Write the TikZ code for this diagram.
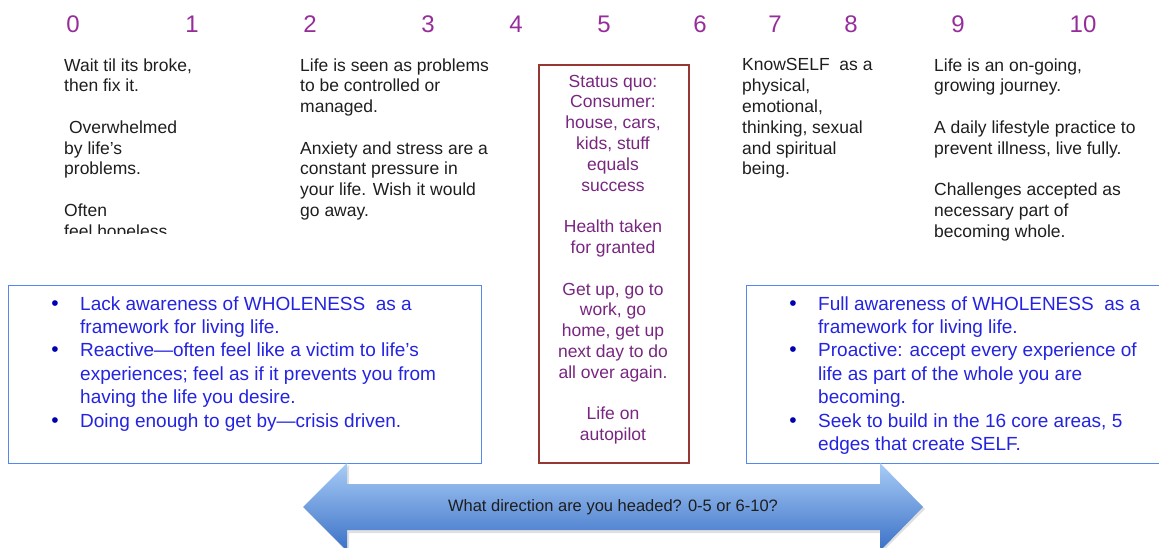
\documentclass[tikz,border=0pt]{standalone}
\usepackage{fontspec}
\setmainfont{Liberation Sans}
\usetikzlibrary{positioning}
\definecolor{numcol}{RGB}{150,45,155}
\definecolor{quocol}{RGB}{120,38,128}
\definecolor{txtcol}{RGB}{30,30,30}
\definecolor{bluetxt}{RGB}{35,35,225}
\definecolor{blueline}{RGB}{85,135,240}
\definecolor{redline}{RGB}{150,55,52}
\definecolor{arrowtop}{RGB}{168,204,246}
\definecolor{arrowbot}{RGB}{58,112,198}
% multi-line nodes sit on the baseline of their last line
\tikzset{
    scalenum/.style = {
        text = numcol,
        font = \fontsize{24}{28}\selectfont,
        anchor = base,
        inner sep = 0,
        },
    blurb/.style = {
        text = txtcol,
        font = \fontsize{17.5}{20.8}\selectfont,
        align = left,
        anchor = base west,
        inner sep = 0,
        },
    quo/.style = {
        text = quocol,
        font = \fontsize{17.5}{20.8}\selectfont,
        align = center,
        anchor = base,
        inner sep = 0,
        },
    bluebox/.style = {
        draw = blueline,
        line width = 1.2pt,
        anchor = north west,
        inner sep = 0,
        },
    redbox/.style = {
        draw = redline,
        line width = 2.2pt,
        anchor = north west,
        inner sep = 0,
        },
    item/.style = {
        text = bluetxt,
        font = \fontsize{19}{23.4}\selectfont,
        align = left,
        anchor = base west,
        inner sep = 0,
        },
    dot/.style = {
        text = blue!70!black,
        font = \fontsize{21}{23.4}\selectfont,
        anchor = base,
        inner sep = 0,
        },
}

\begin{document}
\begin{tikzpicture}[x=1pt, y=-1pt]
    \useasboundingbox (0,0) rectangle (1159,548);
    \clip (0,0) rectangle (1159,548);

    % scale 0..10
    \foreach \n/\x in {0/73,1/192,2/310,3/428,4/516,5/604,6/700,7/775,8/851,9/958,10/1083}
        \node[scalenum] (n\n) at (\x,33) {\n};

    % top texts
    \begin{scope}
        \clip (0,40) rectangle (280,234);
        \node[blurb] (t01) at (64,237.4) {Wait til its broke,\\then fix it.\\[20.8pt]
            \ Overwhelmed\\by life’s\\problems.\\[20.8pt]Often\\feel hopeless};
    \end{scope}
    \node[blurb] (t23) at (300,216.6) {Life is seen as problems\\to be controlled or\\managed.\\[20.8pt]
        Anxiety and stress are a\\constant pressure in\\your life. Wish it would\\go away.};
    \node[blurb] (t78) at (742,175) {KnowSELF\ \ as a\\physical,\\emotional,\\thinking, sexual\\and spiritual\\being.};
    \node[blurb] (t910) at (934,237.4) {Life is an on-going,\\growing journey.\\[20.8pt]
        A daily lifestyle practice to\\prevent illness, live fully.\\[20.8pt]
        Challenges accepted as\\necessary part of\\becoming whole.};

    % status quo
    \node[redbox, minimum width=150, minimum height=398] (mid) at (538,64) {};
    \node[quo] (q) at (613,440.6) {Status quo:\\Consumer:\\house, cars,\\kids, stuff\\equals\\success\\[20.8pt]
        Health taken\\for granted\\[20.8pt]
        Get up, go to\\work, go\\home, get up\\next day to do\\all over again.\\[20.8pt]
        Life on\\autopilot};

    % left box
    \node[bluebox, minimum width=473, minimum height=178] (lbox) at (8,285) {};
    \node[dot] (ld1) at (55,310) {\textbullet};
    \node[item] (l1) at (80,333.4) {Lack awareness of WHOLENESS\ \ as a\\framework for living life.};
    \node[dot] (ld2) at (55,356.8) {\textbullet};
    \node[item] (l2) at (80,403.6) {Reactive—often feel like a victim to life’s\\experiences; feel as if it prevents you from\\having the life you desire.};
    \node[dot] (ld3) at (55,427) {\textbullet};
    \node[item] (l3) at (80,427) {Doing enough to get by—crisis driven.};

    % right box
    \node[bluebox, minimum width=430, minimum height=178] (rbox) at (746,285) {};
    \node[dot] (rd1) at (793,310) {\textbullet};
    \node[item] (r1) at (818,333.4) {Full awareness of WHOLENESS\ \ as a\\framework for living life.};
    \node[dot] (rd2) at (793,356.8) {\textbullet};
    \node[item] (r2) at (818,403.6) {Proactive: accept every experience of\\life as part of the whole you are\\becoming.};
    \node[dot] (rd3) at (793,427) {\textbullet};
    \node[item] (r3) at (818,450.4) {Seek to build in the 16 core areas, 5\\edges that create SELF.};

    % double arrow
    \fill[black, opacity=0.12] (305,509) -- (349,465) -- (349,486) -- (880,486) -- (880,465)
        -- (925,509) -- (880,554) -- (880,533) -- (349,533) -- (349,554) -- cycle;
    \shade[top color=arrowtop, bottom color=arrowbot] (303,507) -- (347,463) -- (347,484) -- (880,484)
        -- (880,463) -- (923,507) -- (880,551) -- (880,530) -- (347,530) -- (347,551) -- cycle;
    \node[font=\fontsize{16.5}{20}\selectfont, text=txtcol] (ask) at (613,507) {What direction are you headed? 0-5 or 6-10?};
\end{tikzpicture}
\end{document}
